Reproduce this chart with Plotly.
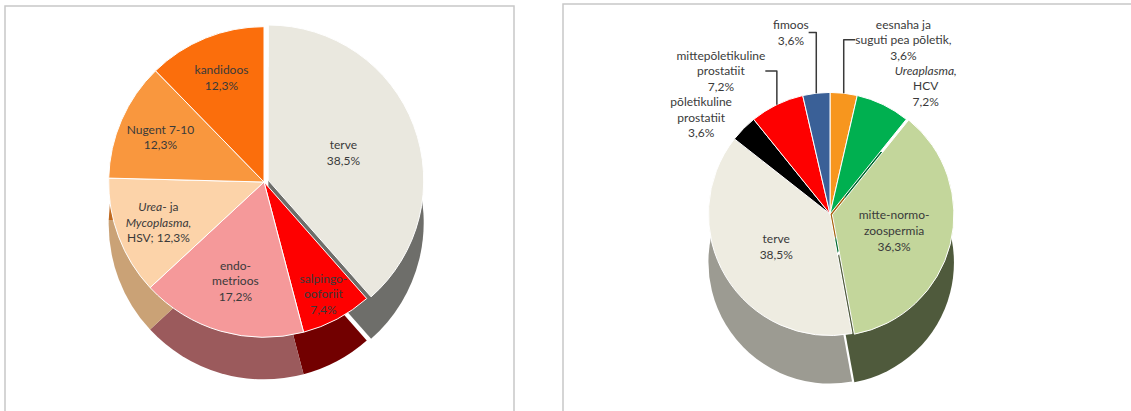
import plotly.graph_objects as go

# Left chart (women)
left_labels = ["terve", "salpingo-ooforiit", "endometrioos", "Urea- ja Mycoplasma, HSV", "Nugent 7-10", "kandidoos"]
left_values = [38.5, 7.4, 17.2, 12.3, 12.3, 12.3]
left_text = ["terve<br>38,5%", "salpingo-<br>ooforiit<br>7,4%", "endo-<br>metrioos<br>17,2%",
             "<i>Urea</i>- ja<br><i>Mycoplasma,</i><br>HSV; 12,3%", "Nugent 7-10<br>12,3%", "kandidoos<br>12,3%"]
left_colors = ["#eae8df", "#fe0000", "#f5999a", "#fcd3a9", "#f9973e", "#fb6e0c"]
left_side = ["#6e6e6a", "#720000", "#9b5a5c", "#caa276", "#c06a20", "#b44e08"]
left_pull = [0.03, 0, 0, 0, 0, 0]

# Right chart (men)
right_labels = ["eesnaha ja suguti pea põletik", "Ureaplasma, HCV", "mitte-normozoospermia", "terve",
                "põletikuline prostatiit", "mittepõletikuline prostatiit", "fimoos"]
right_values = [3.6, 7.2, 36.3, 38.5, 3.6, 7.2, 3.6]
right_text = ["eesnaha ja<br>suguti pea põletik,<br>3,6%", "<i>Ureaplasma,</i><br>HCV<br>7,2%",
              "mitte-normo-<br>zoospermia<br>36,3%", "terve<br>38,5%", "põletikuline<br>prostatiit<br>3,6%",
              "mittepõletikuline<br>prostatiit<br>7,2%", "fimoos<br>3,6%"]
right_colors = ["#f7961e", "#00b050", "#c3d69b", "#eeece1", "#000000", "#fe0000", "#3a6097"]
right_side = ["#a8620e", "#006a30", "#4f5a3c", "#9c9b92", "#000000", "#800000", "#24395a"]
right_pos = ["outside", "outside", "inside", "inside", "outside", "outside", "outside"]
right_pull = [0, 0, 0.02, 0, 0, 0, 0]

FONT = "Lato, 'Open Sans', sans-serif"
W, H = 1131, 411

def dom(x0, x1, y0, y1):
    # pixel box (top-left origin) -> paper domain
    return dict(x=[x0 / W, x1 / W], y=[1 - y1 / H, 1 - y0 / H])

fig = go.Figure()

LD = 42  # depth of left pie side (px)
RD = 48  # depth of right pie side (px)

# side (depth) layers
fig.add_trace(go.Pie(values=left_values, labels=left_labels, sort=False, direction="clockwise",
                     marker=dict(colors=left_side, line=dict(width=0)), pull=left_pull,
                     textinfo="none", hoverinfo="skip", showlegend=False,
                     domain=dom(104, 424, 22 + LD, 342 + LD)))
fig.add_trace(go.Pie(values=left_values, labels=left_labels, sort=False, direction="clockwise",
                     marker=dict(colors=left_colors, line=dict(color="white", width=1)), pull=left_pull,
                     text=left_text, textinfo="text", textposition="inside",
                     insidetextorientation="horizontal", hoverinfo="label+percent",
                     textfont=dict(family=FONT, size=15, color="#3a3a3a"), showlegend=False,
                     domain=dom(104, 424, 22, 342)))

fig.add_trace(go.Pie(values=right_values, labels=right_labels, sort=False, direction="clockwise",
                     marker=dict(colors=right_side, line=dict(width=0)), pull=right_pull,
                     textinfo="none", hoverinfo="skip", showlegend=False,
                     domain=dom(706, 954, 90 + RD, 338 + RD)))
fig.add_trace(go.Pie(values=right_values, labels=right_labels, sort=False, direction="clockwise",
                     marker=dict(colors=right_colors, line=dict(color="white", width=1)), pull=right_pull,
                     text=right_text, textinfo="text", textposition=right_pos,
                     insidetextorientation="horizontal", hoverinfo="label+percent",
                     outsidetextfont=dict(family=FONT, size=12, color="#3a3a3a"),
                     insidetextfont=dict(family=FONT, size=15, color="#3a3a3a"),
                     showlegend=False,
                     domain=dom(706, 954, 90, 338)))

fig.update_layout(
    width=W, height=H,
    margin=dict(l=0, r=0, t=0, b=0, autoexpand=False),
    paper_bgcolor="white", plot_bgcolor="white",
    uniformtext=dict(minsize=12, mode="show"),
    shapes=[
        dict(type="rect", xref="paper", yref="paper", x0=5 / W, x1=514 / W, y0=-0.01, y1=1 - 6 / H,
             line=dict(color="#c8c8c8", width=1.5)),
        dict(type="rect", xref="paper", yref="paper", x0=563 / W, x1=1.01, y0=-0.01, y1=1 - 4 / H,
             line=dict(color="#c8c8c8", width=1.5)),
    ],
)

fig.write_html("out.html")
